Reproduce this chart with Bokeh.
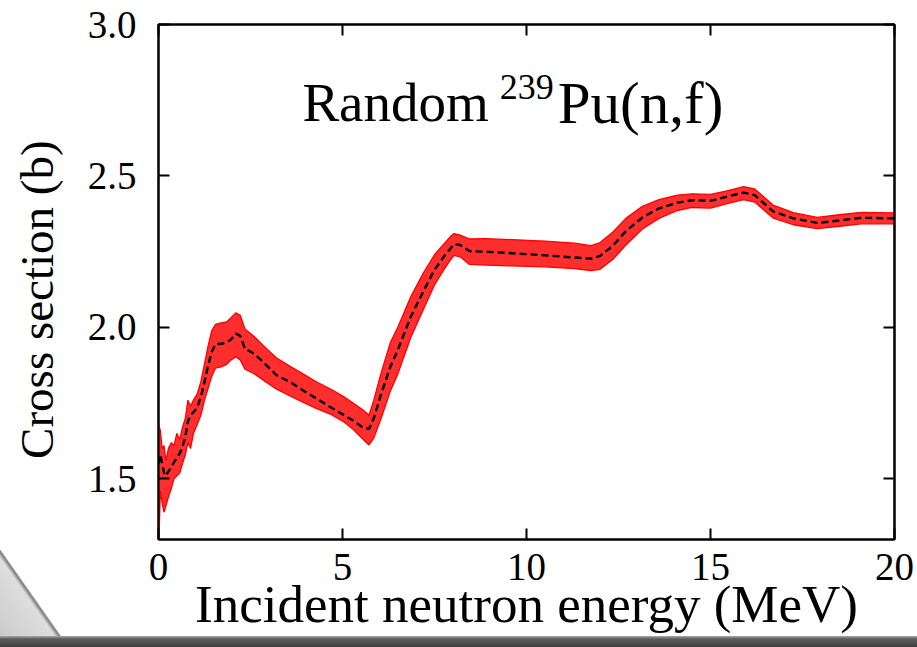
from bokeh.plotting import figure
from bokeh.models import LinearAxis, FixedTicker, NumeralTickFormatter, Label, Range1d
from bokeh.embed import file_html
from bokeh.resources import INLINE

# ---- data ----
energy = [0.0, 0.05, 0.1, 0.15, 0.2, 0.27, 0.35, 0.42, 0.5, 0.58, 0.65, 0.73, 0.8, 0.87, 0.95,
          1.05, 1.15, 1.25, 1.35, 1.45, 1.55, 1.7, 1.85, 1.97, 2.1, 2.22, 2.35, 2.6, 2.85, 3.2,
          3.6, 3.95, 4.3, 4.7, 5.05, 5.3, 5.55, 5.72, 5.85, 6.05, 6.3, 6.5, 6.85, 7.2, 7.5,
          7.75, 7.93, 8.03, 8.2, 8.45, 8.9, 9.6, 10.5, 11.3, 11.75, 12.0, 12.35, 12.7, 13.15,
          13.6, 14.1, 14.5, 15.0, 15.45, 15.9, 16.2, 16.7, 17.25, 17.9, 18.5, 19.1, 20.0]

mean_xs = [1.55, 1.58, 1.55, 1.52, 1.51, 1.525, 1.54, 1.555, 1.57, 1.585, 1.605, 1.64, 1.69, 1.71, 1.72,
           1.735, 1.77, 1.82, 1.875, 1.92, 1.945, 1.946, 1.95, 1.96, 1.98, 1.972, 1.93, 1.913, 1.885, 1.843,
           1.818, 1.79, 1.765, 1.735, 1.71, 1.692, 1.67, 1.665, 1.70, 1.78, 1.87, 1.925, 2.034, 2.12, 2.19,
           2.233, 2.26, 2.275, 2.272, 2.252, 2.25, 2.245, 2.238, 2.231, 2.227, 2.236, 2.27, 2.318, 2.363,
           2.393, 2.412, 2.42, 2.418, 2.432, 2.445, 2.437, 2.383, 2.36, 2.345, 2.353, 2.362, 2.36]

upper_xs = [1.68, 1.66, 1.60, 1.61, 1.56, 1.60, 1.62, 1.61, 1.65, 1.63, 1.67, 1.70, 1.76, 1.74, 1.76,
            1.78, 1.82, 1.88, 1.94, 1.99, 2.01, 2.015, 2.018, 2.032, 2.048, 2.04, 1.995, 1.97, 1.94, 1.9,
            1.87, 1.845, 1.82, 1.795, 1.77, 1.75, 1.728, 1.71, 1.76, 1.85, 1.95, 2.0, 2.1, 2.18, 2.24,
            2.275, 2.30, 2.31, 2.305, 2.292, 2.293, 2.29, 2.285, 2.278, 2.27, 2.28, 2.315, 2.36, 2.4,
            2.422, 2.437, 2.441, 2.439, 2.451, 2.465, 2.457, 2.404, 2.379, 2.363, 2.372, 2.38, 2.378]

lower_xs = [1.25, 1.46, 1.42, 1.39, 1.41, 1.44, 1.47, 1.50, 1.51, 1.52, 1.55, 1.58, 1.62, 1.60, 1.65,
            1.68, 1.71, 1.76, 1.80, 1.84, 1.866, 1.87, 1.878, 1.893, 1.903, 1.893, 1.862, 1.847, 1.826, 1.797,
            1.772, 1.752, 1.732, 1.712, 1.687, 1.662, 1.632, 1.612, 1.635, 1.70, 1.79, 1.845, 1.965, 2.06, 2.14,
            2.19, 2.222, 2.238, 2.233, 2.208, 2.206, 2.203, 2.2, 2.194, 2.188, 2.192, 2.225, 2.272, 2.325,
            2.36, 2.386, 2.396, 2.394, 2.409, 2.422, 2.414, 2.361, 2.339, 2.326, 2.334, 2.342, 2.342]

x_ticks = [0, 5, 10, 15, 20]
y_ticks = [1.5, 2.0, 2.5, 3.0]

FONT = "Liberation Serif"

p = figure(width=917, height=647, x_range=Range1d(0, 20), y_range=Range1d(1.3, 3.0),
           output_backend="svg", toolbar_location=None,
           min_border_left=158, min_border_right=23, min_border_top=24, min_border_bottom=108)
p.grid.visible = False
p.background_fill_color = "white"
p.border_fill_color = None
p.outline_line_color = "black"
p.outline_line_width = 2

p.styles = {
    "background-color": "white",
    "background-image": ("linear-gradient(to bottom, #a8a8a8 0px, #5c5c5c 3px, #3e3e3e 11px), "
                         "linear-gradient(to top right, #c8c8c8 0%, #dedede 46%, #7a7a7a 49.5%, "
                         "rgba(255,255,255,0) 51%)"),
    "background-size": "100% 11px, 68px 97px",
    "background-position": "left bottom, left bottom",
    "background-repeat": "no-repeat, no-repeat",
}

# red band of random curves
p.varea(x=energy, y1=lower_xs, y2=upper_xs, fill_color="#ff0000", fill_alpha=0.82)
p.line(energy, upper_xs, line_color="#ff0000", line_width=1.3)
p.line(energy, lower_xs, line_color="#ff0000", line_width=1.3)
# mean
p.line(energy, mean_xs, line_color="black", line_width=2.4, line_dash="7 4")

p.add_layout(LinearAxis(), "right")
p.add_layout(LinearAxis(), "above")

for ax in p.axis:
    ax.axis_line_width = 2
    ax.axis_line_color = "black"
    ax.major_tick_line_width = 2
    ax.major_tick_in = 11
    ax.major_tick_out = 0
    ax.minor_tick_line_color = None
    ax.major_label_text_font = FONT
    ax.major_label_text_font_size = "39px"
    ax.major_label_text_color = "black"

for ax in p.xaxis:
    ax.ticker = FixedTicker(ticks=x_ticks)
for ax in p.yaxis:
    ax.ticker = FixedTicker(ticks=y_ticks)
    ax.formatter = NumeralTickFormatter(format="0.0")

for ax in (p.right[0], p.above[0]):
    ax.major_label_text_color = None
    ax.major_label_text_font_size = "1px"
    ax.major_label_standoff = 0

xa = p.below[0]
xa.major_label_standoff = 14
xa.axis_label = "Incident neutron energy (MeV)"
xa.axis_label_text_font = FONT
xa.axis_label_text_font_style = "normal"
xa.axis_label_text_font_size = "53px"
xa.axis_label_text_color = "black"
xa.axis_label_standoff = -8

ya = p.left[0]
ya.major_label_standoff = 22
ya.axis_label = "Cross section (b)\u00a0\u00a0\u00a0"
ya.axis_label_text_font = FONT
ya.axis_label_text_font_style = "normal"
ya.axis_label_text_font_size = "47px"
ya.axis_label_text_color = "black"
ya.axis_label_standoff = 22

# title inside plot
p.add_layout(Label(x=3.91, y=2.742, text="Random", text_font=FONT, text_font_size="55px",
                   text_baseline="alphabetic", text_color="black"))
p.add_layout(Label(x=9.27, y=2.793, text="239", text_font=FONT, text_font_size="36px",
                   text_baseline="alphabetic", text_color="black"))
p.add_layout(Label(x=10.85, y=2.742, text="Pu(n,f)", text_font=FONT, text_font_size="59px",
                   text_baseline="alphabetic", text_color="black"))

open("out.html", "w").write(file_html(p, INLINE))
